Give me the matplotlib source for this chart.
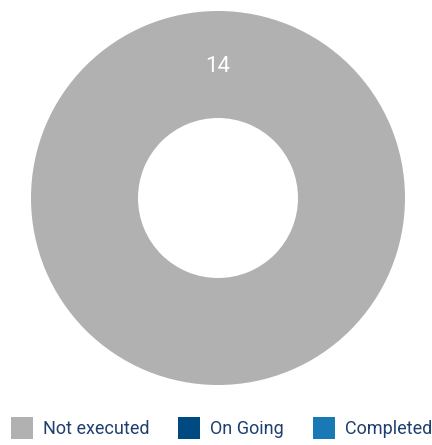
import matplotlib
matplotlib.use("Agg")
import matplotlib.pyplot as plt
from matplotlib.patches import Rectangle
import numpy as np

categories = ["Not executed", "On Going", "Completed"]
values = [14, 0, 0]
colors = ["#b1b1b1", "#004a82", "#1979b4"]

FONT = ["Roboto", "DejaVu Sans"]
W, H = 432, 445
fig = plt.figure(figsize=(W / 100, H / 100), dpi=100)
ax = fig.add_axes([31 / W, 60 / H, 374 / W, 374 / H])

outer = 1.0
inner = 80 / 187
ax.pie(values, colors=colors, radius=outer, startangle=90, counterclock=False,
       wedgeprops=dict(width=outer - inner, edgecolor="none"))
ax.set_xlim(-1, 1)
ax.set_ylim(-1, 1)

total = sum(values)
ang = 90.0
rmid = (outer + inner) / 2
for v in values:
    if v <= 0:
        continue
    span = 360.0 * v / total
    mid = ang - span / 2 if span < 360 else 90.0
    ax.text(rmid * np.cos(np.radians(mid)), rmid * np.sin(np.radians(mid)) - 0.01, str(v),
            ha="center", va="center", color="white", fontsize=16, family=FONT)
    ang -= span

# legend, laid out by hand
sq_x = [11, 178, 313]
sq = 22
y_top = 417
for x, c, lab in zip(sq_x, colors, categories):
    fig.add_artist(Rectangle((x / W, 1 - (y_top + sq) / H), sq / W, sq / H,
                             transform=fig.transFigure, facecolor=c, edgecolor="none"))
    fig.text((x + sq + 10) / W, 1 - (y_top + sq / 2 + 1) / H, lab, ha="left", va="center",
             fontsize=13, color="#1f3f6e", family=FONT)

fig.savefig("out.png", dpi=100)
